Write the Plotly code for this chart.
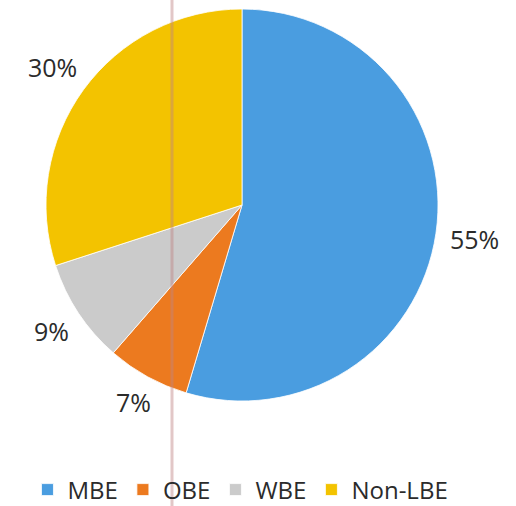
import math
import plotly.graph_objects as go

categories = ["MBE", "OBE", "WBE", "Non-LBE"]
values = [54.6, 6.8, 8.6, 30.0]
colors = ["#4a9de0", "#ec7a1f", "#cbcbcb", "#f3c300"]

FONT = "Open Sans"
LABEL_SIZE = 25
W, H = 516, 506
CX, CY, R = 242.0, 205.0, 196.0     # pie placement in pixels

fig = go.Figure(go.Pie(
    labels=categories,
    values=values,
    textinfo="none",
    sort=False,
    direction="clockwise",
    rotation=0,
    marker=dict(colors=colors, line=dict(color="#ffffff", width=0.8)),
    hole=0,
    domain=dict(x=[(CX - R) / W, (CX + R) / W],
                y=[1 - (CY + R) / H, 1 - (CY - R) / H]),
    showlegend=True,
))

# percentage labels placed just outside each slice (derived from the values)
total = sum(values)
start = 0.0
annotations = []
for v in values:
    frac = v / total
    mid = (start + frac / 2) * 2 * math.pi
    start += frac
    txt = f"{round(frac * 100):d}%"
    ndig = len(txt) - 1
    w = ndig * 0.572 * LABEL_SIZE + 0.83 * LABEL_SIZE
    h = 0.72 * LABEL_SIZE
    sx, sy = math.sin(mid), -math.cos(mid)   # screen direction (y down)
    dist = R + 13 + abs(sx) * w / 2 + abs(sy) * h / 2
    annotations.append(dict(
        x=(CX + dist * sx) / W, y=1 - (CY + dist * sy) / H,
        xref="paper", yref="paper", text=txt, showarrow=False,
        xanchor="center", yanchor="middle",
        font=dict(size=LABEL_SIZE, color="#2b2b2b", family=FONT),
    ))

fig.update_layout(
    width=W, height=H,
    margin=dict(l=0, r=0, t=0, b=0, autoexpand=False),
    paper_bgcolor="white",
    plot_bgcolor="white",
    font=dict(family=FONT, color="#2b2b2b"),
    annotations=annotations,
    legend=dict(
        orientation="h",
        x=0.466, xanchor="center",
        y=1 - 490 / H, yanchor="middle",
        font=dict(size=24, color="#2b2b2b", family=FONT),
        itemwidth=30,
        traceorder="normal",
        bgcolor="rgba(0,0,0,0)",
    ),
    shapes=[dict(
        type="line", xref="paper", yref="paper",
        x0=172 / W, x1=172 / W, y0=0, y1=1,
        line=dict(color="rgba(190,130,130,0.45)", width=3),
        layer="above",
    )],
)

fig.write_html(
    "out.html",
    config={"displayModeBar": False},
    post_script="document.body.style.margin='0';document.body.style.overflow='hidden';",
)
